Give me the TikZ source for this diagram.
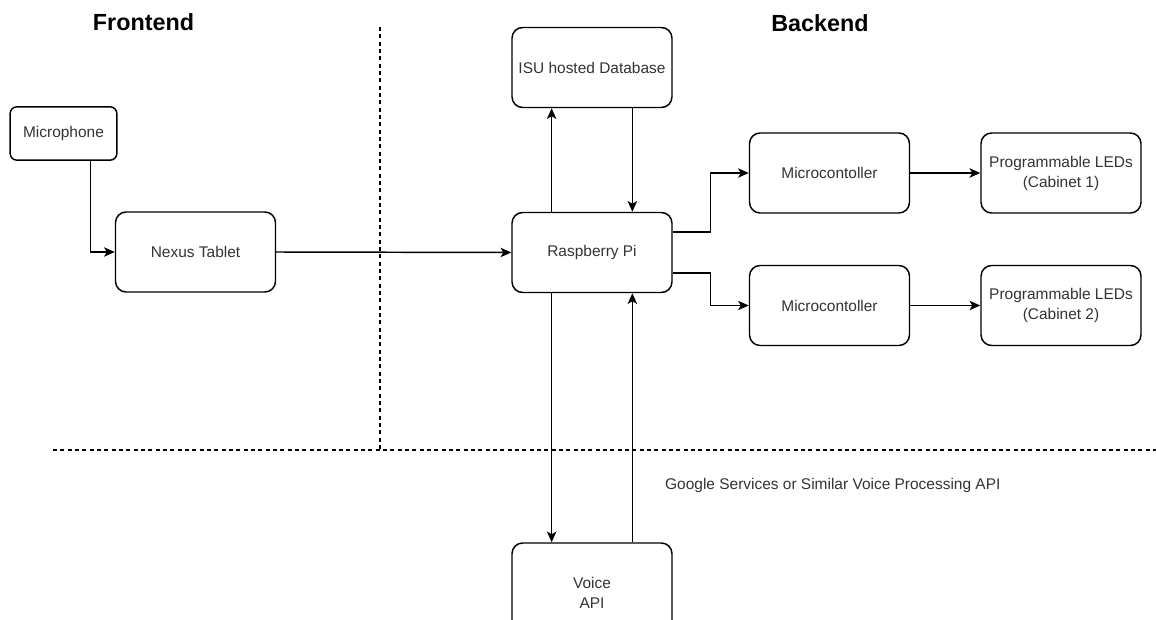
\documentclass[tikz,border=0pt]{standalone}
\usepackage{fontspec}
\setmainfont{Liberation Sans}
\usepackage{tikz}
\usetikzlibrary{positioning, shapes.geometric}
\usetikzlibrary{calc}
\usetikzlibrary{arrows.meta}

\definecolor{boxtext}{HTML}{333333}

\begin{document}
\begin{tikzpicture}[x=0.75pt, y=-0.75pt, line width=1.1pt,
        box/.style={rectangle, rounded corners=8pt, draw, minimum width=120pt, minimum height=60pt, align=center, text=boxtext, font=\fontsize{11.6}{15}\selectfont, inner sep=1pt},
        smallbox/.style={box, rounded corners=5pt, minimum width=80pt, minimum height=40pt},
        title/.style={font=\fontsize{17.5}{20}\selectfont\bfseries},
        arrow/.style={-{Stealth[length=8pt, width=7pt, inset=2pt]}},
        sepline/.style={line width=0.8pt, dash pattern=on 3pt off 2.5pt}]

        \clip (0,0) rectangle (1156,620);

        % Titles
        \node (front) [title] at (143.5,22) {Frontend};
        \node (back) [title] at (820,23) {Backend};

        % Separators
        \coordinate (vtop) at (380,27);
        \coordinate (vbot) at (380,450);
        \coordinate (hleft) at (53,450);
        \coordinate (hright) at (1160,450);
        \draw[sepline] (vtop) -- (vbot);
        \draw[sepline] (hleft) -- (hright);

        % Nodes
        \node (mic) [smallbox] at (63.5,133.5) {Microphone};
        \node (nexus) [box] at (195.5,252) {Nexus Tablet};
        \node (db) [box] at (592,67.5) {ISU hosted Database};
        \node (rpi) [box] at (592,252.5) {Raspberry Pi};
        \node (mc1) [box] at (829.5,173) {Microcontoller};
        \node (led1) [box] at (1061,173) {Programmable LEDs\\(Cabinet 1)};
        \node (mc2) [box] at (829.5,305.5) {Microcontoller};
        \node (led2) [box] at (1061,305.5) {Programmable LEDs\\(Cabinet 2)};
        \node (voice) [box, minimum height=75pt] at (592,593) {Voice\\API};
        \node (google) [anchor=west, text=boxtext, font=\fontsize{11.6}{14}\selectfont] at (660,485)
                    {Google Services or Similar Voice Processing API};

        % Arrows
        \draw[arrow] ($(mic.south west)!0.75!(mic.south east)$) |- (nexus.west);
        \draw[arrow] (nexus.east) -- (rpi.west);
        \draw[arrow] ($(rpi.north west)!0.25!(rpi.north east)$) -- ($(db.south west)!0.25!(db.south east)$);
        \draw[arrow] ($(db.south west)!0.75!(db.south east)$) -- ($(rpi.north west)!0.75!(rpi.north east)$);
        \draw[arrow] ($(rpi.north east)!0.25!(rpi.south east)$) -- ++(38,0) |- (mc1.west);
        \draw[arrow] ($(rpi.north east)!0.75!(rpi.south east)$) -- ++(38,0) |- (mc2.west);
        \draw[arrow] (mc1.east) -- (led1.west);
        \draw[arrow] (mc2.east) -- (led2.west);
        \draw[arrow] ($(rpi.south west)!0.25!(rpi.south east)$) -- ($(voice.north west)!0.25!(voice.north east)$);
        \draw[arrow] ($(voice.north west)!0.75!(voice.north east)$) -- ($(rpi.south west)!0.75!(rpi.south east)$);

\end{tikzpicture}
\end{document}
